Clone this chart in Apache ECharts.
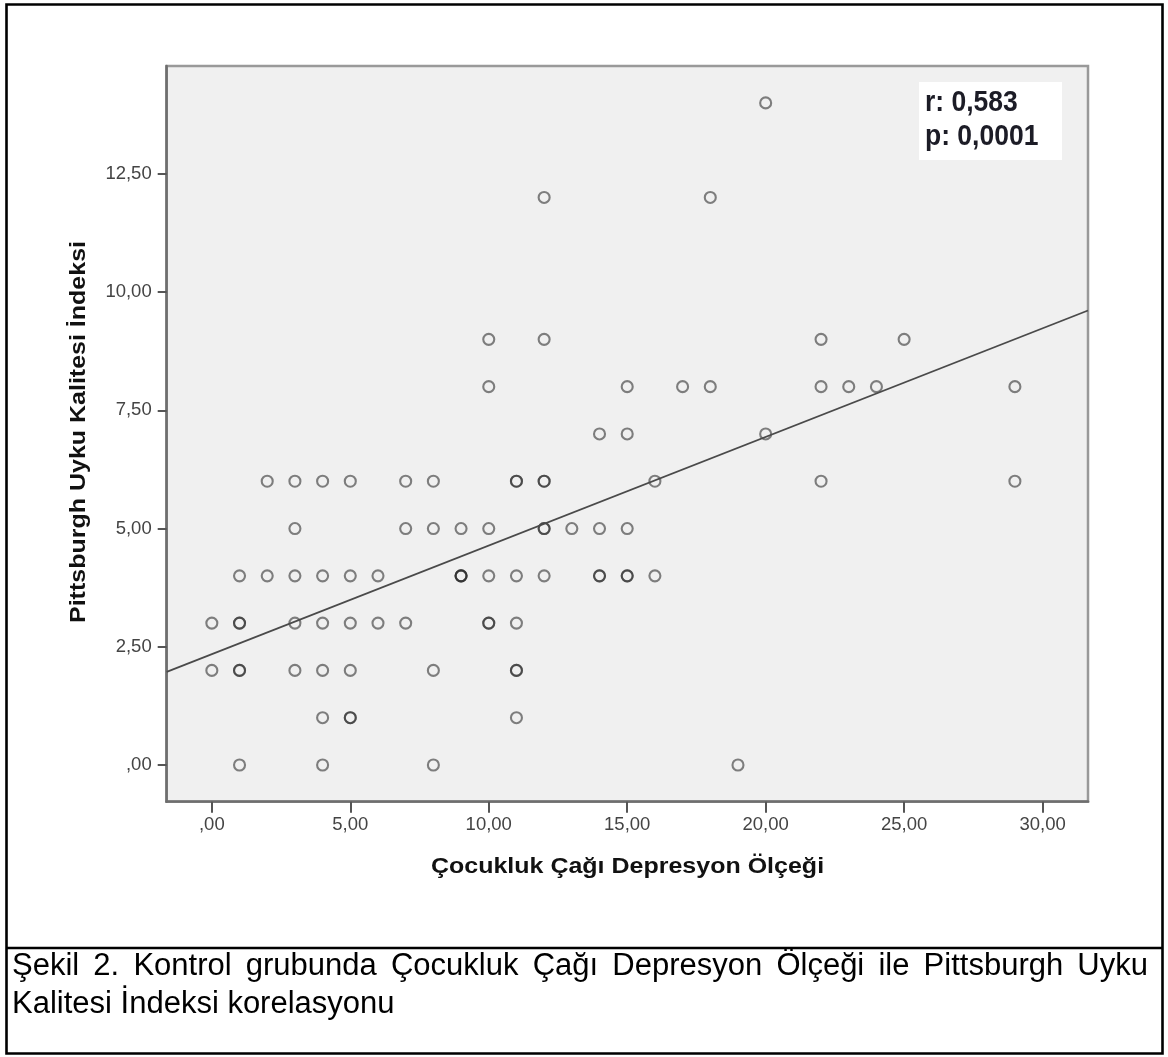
<!DOCTYPE html>
<html>
<head>
<meta charset="utf-8">
<script src="https://cdn.jsdelivr.net/npm/echarts@6/dist/echarts.min.js"></script>
<style>
html,body{margin:0;padding:0;background:#fff;}
#chart{width:1168px;height:1057px;}
</style>
</head>
<body>
<div id="chart"></div>
<script>
// ---- data ----
// each point: Çocukluk Çağı Depresyon Ölçeği (x) and Pittsburgh Uyku Kalitesi İndeksi (y)
const depressionScores = [
  20,
  12, 18,
  10, 12, 22, 25,
  10, 15, 17, 18, 22, 23, 24, 29,
  14, 15, 20,
  2, 3, 4, 5, 7, 8, 11, 11, 12, 12, 16, 22, 29,
  3, 7, 8, 9, 10, 12, 12, 13, 14, 15,
  1, 2, 3, 4, 5, 6, 9, 9, 9, 10, 11, 12, 14, 14, 15, 15, 16,
  0, 1, 1, 3, 4, 5, 6, 7, 10, 10, 11,
  0, 1, 1, 3, 4, 5, 8, 11, 11,
  4, 5, 5, 11,
  1, 4, 8, 19
];
const sleepScores = [
  14,
  12, 12,
  9, 9, 9, 9,
  8, 8, 8, 8, 8, 8, 8, 8,
  7, 7, 7,
  6, 6, 6, 6, 6, 6, 6, 6, 6, 6, 6, 6, 6,
  5, 5, 5, 5, 5, 5, 5, 5, 5, 5,
  4, 4, 4, 4, 4, 4, 4, 4, 4, 4, 4, 4, 4, 4, 4, 4, 4,
  3, 3, 3, 3, 3, 3, 3, 3, 3, 3, 3,
  2, 2, 2, 2, 2, 2, 2, 2, 2,
  1, 1, 1, 1,
  0, 0, 0, 0
];
// fit line end points (read at the plot edges)
const fitLine = [[-1.63, 1.97], [31.64, 9.61]];
const xRange = [-1.63, 31.64];
const yRange = [-0.776, 14.78];
const xTickValues = [0, 5, 10, 15, 20, 25, 30];
const xTickLabels = [',00', '5,00', '10,00', '15,00', '20,00', '25,00', '30,00'];
const yTickValues = [0, 2.5, 5, 7.5, 10, 12.5];
const yTickLabels = [',00', '2,50', '5,00', '7,50', '10,00', '12,50'];
const xTitle = 'Çocukluk Çağı Depresyon Ölçeği';
const yTitle = 'Pittsburgh Uyku Kalitesi İndeksi';
const statsLines = ['r: 0,583', 'p: 0,0001'];
const captionLines = [
  'Şekil 2. Kontrol grubunda Çocukluk Çağı Depresyon Ölçeği ile Pittsburgh Uyku',
  'Kalitesi İndeksi korelasyonu'
];

// ---- build ----
const points = depressionScores.map((x, i) => [x, sleepScores[i]]);
const FONT = '"Liberation Sans", Arial, Helvetica, sans-serif';

const capFontSize = 31;
const measureCtx = document.createElement('canvas').getContext('2d');
measureCtx.font = capFontSize + 'px ' + FONT;

function captionWords(line, left, right, y, justify) {
  const words = line.split(' ');
  const widths = words.map(w => measureCtx.measureText(w).width);
  const total = widths.reduce((a, b) => a + b, 0);
  const space = measureCtx.measureText(' ').width;
  const gap = justify ? (right - left - total) / (words.length - 1) : space;
  let x = left;
  return words.map((w, i) => {
    const el = {
      type: 'text', x: x, y: y, z: 20,
      style: { text: w, fontSize: capFontSize, fontFamily: FONT, fill: '#000',
               textAlign: 'left', textVerticalAlign: 'middle', align: 'left', verticalAlign: 'middle' }
    };
    x += widths[i] + gap;
    return el;
  });
}

const chart = echarts.init(document.getElementById('chart'), null, { renderer: 'canvas' });

const graphics = [
  // outer frame
  { type: 'rect', z: 30, shape: { x: 6.5, y: 4.5, width: 1156, height: 1049 },
    style: { fill: 'none', stroke: '#000', lineWidth: 2.6 } },
  // separator above caption
  { type: 'line', z: 30, shape: { x1: 6.5, y1: 948, x2: 1162.5, y2: 948 },
    style: { stroke: '#000', lineWidth: 2.6 } },
  // stats box
  { type: 'rect', z: 10, shape: { x: 919, y: 82, width: 143, height: 78 },
    style: { fill: '#ffffff', stroke: 'none' } },
  { type: 'text', z: 11, x: 925, y: 103, scaleY: 1.12,
    style: { text: statsLines[0], fontSize: 26.5, fontWeight: 'bold', fontFamily: FONT, fill: '#1c1c26',
             textAlign: 'left', textVerticalAlign: 'middle', align: 'left', verticalAlign: 'middle' } },
  { type: 'text', z: 11, x: 925, y: 137, scaleY: 1.12,
    style: { text: statsLines[1], fontSize: 26.5, fontWeight: 'bold', fontFamily: FONT, fill: '#1c1c26',
             textAlign: 'left', textVerticalAlign: 'middle', align: 'left', verticalAlign: 'middle' } },
  // axis titles
  { type: 'text', z: 11, x: 627.5, y: 867, scaleY: 0.88,
    style: { text: xTitle, fontSize: 25, fontWeight: 'bold', fontFamily: FONT, fill: '#111',
             textAlign: 'center', textVerticalAlign: 'middle', align: 'center', verticalAlign: 'middle' } },
  { type: 'text', z: 11, x: 79, y: 432, rotation: Math.PI / 2, scaleY: 0.88,
    style: { text: yTitle, fontSize: 25, fontWeight: 'bold', fontFamily: FONT, fill: '#111',
             textAlign: 'center', textVerticalAlign: 'middle', align: 'center', verticalAlign: 'middle' } }
].concat(
  captionWords(captionLines[0], 12, 1148, 966, true),
  captionWords(captionLines[1], 12, 1148, 1004, false)
);

const option = {
  animation: false,
  backgroundColor: '#ffffff',
  grid: {
    left: 166.7, right: 80, top: 66, bottom: 255.3,
    show: true, backgroundColor: '#f0f0f0', borderColor: '#999999', borderWidth: 2.5
  },
  xAxis: {
    type: 'value', min: xRange[0], max: xRange[1],
    splitLine: { show: false },
    axisLine: { show: true, onZero: false, lineStyle: { color: '#6e6e6e', width: 2.6 } },
    axisTick: { show: true, length: 11, customValues: xTickValues, lineStyle: { color: '#555', width: 2 } },
    axisLabel: {
      customValues: xTickValues, margin: 14, color: '#444', fontSize: 18.5, fontFamily: FONT,
      formatter: v => { const i = xTickValues.indexOf(v); return i >= 0 ? xTickLabels[i] : ''; }
    }
  },
  yAxis: {
    type: 'value', min: yRange[0], max: yRange[1],
    splitLine: { show: false },
    axisLine: { show: true, onZero: false, lineStyle: { color: '#6e6e6e', width: 2.6 } },
    axisTick: { show: true, length: 9, customValues: yTickValues, lineStyle: { color: '#555', width: 2 } },
    axisLabel: {
      customValues: yTickValues, margin: 15, color: '#444', fontSize: 18.5, fontFamily: FONT,
      formatter: v => { const i = yTickValues.indexOf(v); return i >= 0 ? yTickLabels[i] : ''; }
    }
  },
  series: [
    {
      type: 'scatter', data: points, symbol: 'circle', symbolSize: 11,
      itemStyle: { color: 'rgba(0,0,0,0)', borderColor: 'rgba(35,35,35,0.7)', borderWidth: 2.1 },
      emphasis: { disabled: true }, silent: true, z: 2
    },
    {
      type: 'line', data: fitLine, symbol: 'none', silent: true, z: 3,
      lineStyle: { color: '#4a4a4a', width: 1.8 }
    }
  ],
  graphic: graphics
};
chart.setOption(option);
</script>
</body>
</html>
